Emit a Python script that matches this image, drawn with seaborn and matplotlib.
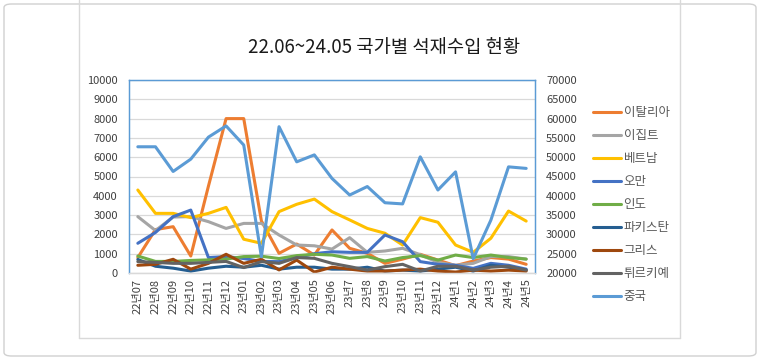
import numpy as np
import pandas as pd
import seaborn as sns
import matplotlib.pyplot as plt
from matplotlib.patches import FancyBboxPatch
from matplotlib.lines import Line2D

# =========================
# DATA
# =========================
months = ["22년07", "22년08", "22년09", "22년10", "22년11", "22년12",
          "23년01", "23년02", "23년03", "23년04", "23년05", "23년06",
          "23년7", "23년8", "23년9", "23년10", "23년11", "23년12",
          "24년1", "24년2", "24년3", "24년4", "24년5"]

italy = [800, 2250, 2400, 880, 4500, 8000, 8000, 2700, 1020, 1500, 930, 2230,
         1280, 1020, 500, 720, 970, 670, 380, 620, 800, 720, 450]
egypt = [2920, 2200, 2900, 2920, 2660, 2310, 2570, 2570, 1970, 1450, 1410, 1240,
         1830, 1070, 1140, 1280, 950, 550, 400, 500, 850, 850, 720]
vietnam = [4300, 3090, 3090, 2870, 3090, 3400, 1750, 1540, 3180, 3560, 3830, 3180,
           2750, 2310, 2060, 1450, 2870, 2630, 1450, 1070, 1800, 3210, 2690]
oman = [1540, 2100, 2920, 3260, 800, 850, 750, 600, 590, 800, 1000, 1100,
        1070, 1070, 1970, 1620, 590, 450, 400, 240, 500, 400, 200]
india = [880, 600, 600, 650, 680, 720, 850, 870, 750, 900, 970, 930,
         760, 850, 620, 800, 900, 670, 930, 800, 930, 800, 720]
pakistan = [700, 350, 250, 100, 250, 350, 300, 400, 200, 300, 300, 200,
            200, 300, 100, 150, 100, 200, 300, 100, 400, 300, 150]
greece = [400, 450, 710, 200, 500, 970, 500, 710, 160, 670, 50, 300,
          200, 100, 100, 150, 200, 100, 50, 150, 100, 150, 100]
turkiye = [590, 550, 500, 500, 550, 600, 280, 590, 500, 800, 760, 500,
           330, 150, 330, 450, 100, 350, 350, 150, 300, 350, 150]
china = [52700, 52700, 46300, 49500, 55200, 58100, 53150, 24200, 57900, 48800,
         50600, 44500, 40200, 42400, 38200, 37900, 50100, 41500, 46200, 23700,
         33700, 47500, 47100]

countries = ["이탈리아", "이집트", "베트남", "오만", "인도", "파키스탄", "그리스", "튀르키예"]
series = [italy, egypt, vietnam, oman, india, pakistan, greece, turkiye]
colors = ["#ED7D31", "#A5A5A5", "#FFC000", "#4472C4", "#70AD47",
          "#255E91", "#9E480E", "#636363"]
china_color = "#5B9BD5"

df = pd.DataFrame({
    "month": months * len(countries),
    "country": np.repeat(countries, len(months)),
    "value": np.concatenate(series),
})
df_china = pd.DataFrame({"month": months, "value": china})

# =========================
# PLOT
# =========================
sns.set_style("white")
plt.rcParams["font.family"] = ["Noto Sans CJK KR", "DejaVu Sans"]

fig = plt.figure(figsize=(7.6, 3.6), dpi=100)
ax = fig.add_axes([129 / 760, 1 - 273 / 360, (535 - 129) / 760, (273 - 80) / 360])

sns.lineplot(data=df, x="month", y="value", hue="country", hue_order=countries,
             palette=colors, linewidth=2.2, sort=False, legend=False, ax=ax)

ax2 = ax.twinx()
sns.lineplot(data=df_china, x="month", y="value", color=china_color,
             linewidth=2.2, sort=False, legend=False, ax=ax2)

ax.set_xlim(-0.5, len(months) - 0.5)
ax.set_ylim(0, 10000)
ax.set_yticks(np.arange(0, 10001, 1000))
ax2.set_ylim(20000, 70000)
ax2.set_yticks(np.arange(20000, 70001, 5000))

ax.grid(axis="y", color="#D9D9D9", linewidth=0.9)
ax.set_axisbelow(True)
ax.set_xlabel("")
ax.set_ylabel("")
ax2.set_ylabel("")

tick_color = "#404040"
ax.tick_params(axis="x", labelrotation=90, labelsize=8, colors=tick_color, length=0, pad=4)
ax.tick_params(axis="y", labelsize=8, colors=tick_color, length=0, pad=8)
ax2.tick_params(axis="y", labelsize=8, colors=tick_color, length=0, pad=8)

for a in (ax, ax2):
    for s in a.spines.values():
        s.set_color("#5B9BD5")
        s.set_linewidth(0.9)
ax.spines["bottom"].set_color("#D9D9D9")
ax2.spines["bottom"].set_color("#D9D9D9")

fig.text(384 / 760, 1 - 47 / 360, "22.06~24.05 국가별 석재수입 현황",
         ha="center", va="center", fontsize=13.5, color="#1a1a1a")

# legend
handles = [Line2D([], [], color=c, linewidth=2.2) for c in colors]
handles.append(Line2D([], [], color=china_color, linewidth=2.2))
labels = countries + ["중국"]
fig.legend(handles, labels, loc="upper left", bbox_to_anchor=(588 / 760, 1 - 101 / 360),
           frameon=False, fontsize=9, labelcolor="#595959", handlelength=2.25,
           handletextpad=0.2, labelspacing=0.8, borderaxespad=0)

# chart frame
fig.add_artist(Line2D([79 / 760, 79 / 760], [1.0, 1 - 338 / 360], transform=fig.transFigure,
                      color="#D9D9D9", linewidth=1))
fig.add_artist(Line2D([680 / 760, 680 / 760], [1.0, 1 - 338 / 360], transform=fig.transFigure,
                      color="#D9D9D9", linewidth=1))
fig.add_artist(Line2D([79 / 760, 680 / 760], [1 - 338 / 360, 1 - 338 / 360],
                      transform=fig.transFigure, color="#D9D9D9", linewidth=1))
fig.add_artist(FancyBboxPatch((4 / 760, 4 / 360), 752 / 760, 352 / 360,
                              boxstyle="round,pad=0,rounding_size=0.01",
                              transform=fig.transFigure, fill=False,
                              edgecolor="#D0D0D0", linewidth=1))

plt.savefig("out.png", dpi=100)
plt.close()
